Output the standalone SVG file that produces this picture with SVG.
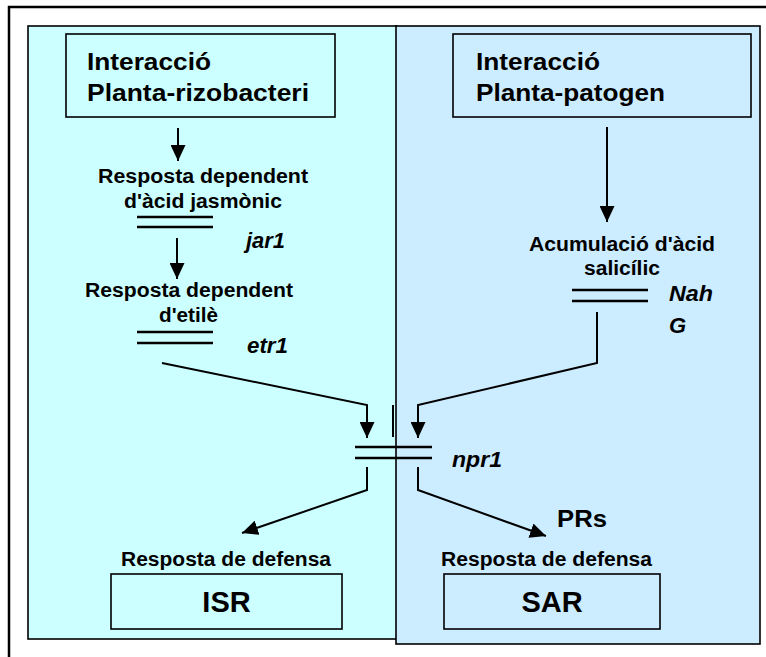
<svg xmlns="http://www.w3.org/2000/svg" width="766" height="657" viewBox="0 0 766 657">
  <style>
    .frame { fill: none; stroke: #000; stroke-width: 2.5; }
    .panel { stroke: #000; stroke-width: 1.6; }
    .isr { fill: #CCFFFF; }
    .sar { fill: #CCECFF; }
    .box { stroke: #000; stroke-width: 1.6; }
    .t { font-family: "Liberation Sans", Arial, sans-serif; font-weight: bold; fill: #000; }
    .head { font-size: 24px; }
    .sub { font-size: 20px; }
    .gene { font-size: 22px; font-style: italic; }
    .big { font-size: 29px; text-anchor: middle; }
    .wire { fill: none; stroke: #000; stroke-width: 2; }
    .bar { stroke: #000; stroke-width: 2.6; }
  </style>
  <defs>
    <marker id="arrow" markerUnits="userSpaceOnUse" markerWidth="16" markerHeight="15" refX="16" refY="7.5" orient="auto">
      <path d="M0,0 L16,7.5 L0,15 z" fill="#000"/>
    </marker>
  </defs>

  <rect width="766" height="657" fill="#fff"/>
  <!-- outer frame (top and left edges) -->
  <path class="frame" d="M9,657 V7 H766"/>

  <!-- two panels -->
  <g id="panel-isr">
    <rect class="panel isr" x="28" y="26" width="369" height="613"/>
  </g>
  <g id="panel-sar">
    <rect class="panel sar" x="396" y="26" width="364" height="618"/>
  </g>

  <g id="node-rizobacteri">
    <rect class="box isr" x="66" y="34" width="269" height="83"/>
    <text class="t head" x="87" y="70" textLength="124" lengthAdjust="spacingAndGlyphs">Interacció</text>
    <text class="t head" x="87" y="101" textLength="222" lengthAdjust="spacingAndGlyphs">Planta-rizobacteri</text>
  </g>

  <g id="node-patogen">
    <rect class="box sar" x="453" y="34" width="298" height="83"/>
    <text class="t head" x="476" y="70" textLength="124" lengthAdjust="spacingAndGlyphs">Interacció</text>
    <text class="t head" x="476" y="101" textLength="189" lengthAdjust="spacingAndGlyphs">Planta-patogen</text>
  </g>

  <g id="node-jasmonic">
    <text class="t sub" x="98" y="183" textLength="210" lengthAdjust="spacingAndGlyphs">Resposta dependent</text>
    <text class="t sub" x="124" y="208" textLength="158" lengthAdjust="spacingAndGlyphs">d'àcid jasmònic</text>
    <line class="bar" x1="137" y1="217" x2="213" y2="217"/>
    <line class="bar" x1="137" y1="227" x2="213" y2="227"/>
    <text class="t gene" x="246" y="248" textLength="39" lengthAdjust="spacingAndGlyphs">jar1</text>
  </g>

  <g id="node-etile">
    <text class="t sub" x="85" y="297" textLength="208" lengthAdjust="spacingAndGlyphs">Resposta dependent</text>
    <text class="t sub" x="159" y="322" textLength="59" lengthAdjust="spacingAndGlyphs">d'etilè</text>
    <line class="bar" x1="137" y1="332" x2="213" y2="332"/>
    <line class="bar" x1="137" y1="343" x2="213" y2="343"/>
    <text class="t gene" x="247" y="353" textLength="41" lengthAdjust="spacingAndGlyphs">etr1</text>
  </g>

  <g id="node-salicilic">
    <text class="t sub" x="529" y="251" textLength="186" lengthAdjust="spacingAndGlyphs">Acumulació d'àcid</text>
    <text class="t sub" x="584" y="275" textLength="76" lengthAdjust="spacingAndGlyphs">salicílic</text>
    <line class="bar" x1="572" y1="290" x2="648" y2="290"/>
    <line class="bar" x1="572" y1="301" x2="648" y2="301"/>
    <text class="t gene" x="669" y="301" textLength="44" lengthAdjust="spacingAndGlyphs">Nah</text>
    <text class="t gene" x="669" y="333">G</text>
  </g>

  <g id="node-npr1">
    <line class="wire" x1="393" y1="405" x2="393" y2="437"/>
    <line class="bar" x1="355" y1="447" x2="432" y2="447"/>
    <line class="bar" x1="355" y1="458" x2="432" y2="458"/>
    <text class="t gene" x="452" y="467" textLength="50" lengthAdjust="spacingAndGlyphs">npr1</text>
  </g>

  <g id="node-prs">
    <text class="t" font-size="24" x="557" y="527" textLength="50" lengthAdjust="spacingAndGlyphs">PRs</text>
  </g>

  <g id="node-isr">
    <text class="t sub" x="121" y="566" textLength="210" lengthAdjust="spacingAndGlyphs">Resposta de defensa</text>
    <rect class="box isr" x="111" y="574" width="231" height="55"/>
    <text class="t big" x="226.5" y="612">ISR</text>
  </g>

  <g id="node-sar">
    <text class="t sub" x="441" y="566" textLength="211" lengthAdjust="spacingAndGlyphs">Resposta de defensa</text>
    <rect class="box sar" x="444" y="574" width="216" height="55"/>
    <text class="t big" x="552" y="612">SAR</text>
  </g>

  <!-- connectors -->
  <g id="connectors">
    <path class="wire" d="M178,128 V161" marker-end="url(#arrow)"/>
    <path class="wire" d="M177,238 V279" marker-end="url(#arrow)"/>
    <path class="wire" d="M607,127 V222" marker-end="url(#arrow)"/>
    <path class="wire" d="M162,363 L367,405 V438" marker-end="url(#arrow)"/>
    <path class="wire" d="M597,312 V363 L418,405 V438" marker-end="url(#arrow)"/>
    <path class="wire" d="M367,467 V490 L242,533" marker-end="url(#arrow)"/>
    <path class="wire" d="M418,467 V490 L546,536" marker-end="url(#arrow)"/>
  </g>
</svg>
